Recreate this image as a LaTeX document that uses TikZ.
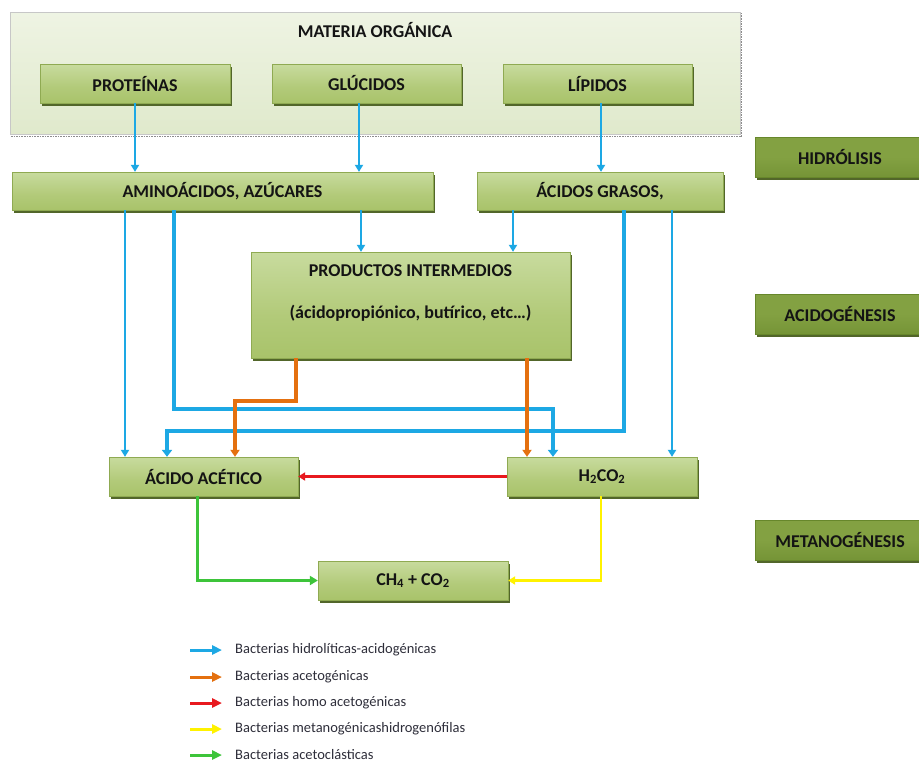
\documentclass[tikz,border=0pt]{standalone}
\usepackage{fontspec}
\setmainfont{Carlito}
\usetikzlibrary{arrows.meta,shadows,calc}
\definecolor{gA}{HTML}{9DBA58}
\definecolor{gB}{HTML}{B2CA79}
\definecolor{gC}{HTML}{C8DB9E}
\definecolor{gD}{HTML}{A3BE63}
\definecolor{pA}{HTML}{67872B}
\definecolor{pB}{HTML}{83A142}
\definecolor{pC}{HTML}{7A983A}
\definecolor{cA}{HTML}{D8E4C0}
\definecolor{cB}{HTML}{F6F9EF}
\definecolor{shd}{HTML}{52662A}
\definecolor{gEdge}{HTML}{8FAA52}
\definecolor{txt}{HTML}{141414}
\definecolor{cblue}{HTML}{1DA8E4}
\definecolor{corange}{HTML}{E4700F}
\definecolor{cred}{HTML}{E8191F}
\definecolor{cyellow}{HTML}{FFF200}
\definecolor{cgreen}{HTML}{3DC43A}
\definecolor{legtxt}{HTML}{2E2E3A}
\pgfdeclareverticalshading{gshade}{100bp}{color(0bp)=(gA); color(45bp)=(gB); color(75bp)=(gC); color(92bp)=(gB); color(100bp)=(gD)}
\pgfdeclareverticalshading{pshade}{100bp}{color(0bp)=(pA); color(50bp)=(pB); color(85bp)=(pB); color(100bp)=(pC)}
\pgfdeclareverticalshading{cshade}{100bp}{color(0bp)=(cA); color(100bp)=(cB)}
\tikzset{
  boxfont/.style={font=\bfseries\fontsize{18}{21}\selectfont, text=txt},
  gbox/.style={rectangle, shading=gshade, draw=gEdge, line width=0.3pt, inner sep=0pt,
     general shadow={fill=shd, shadow xshift=1.5pt, shadow yshift=-3pt}, boxfont},
  pbox/.style={gbox, shading=pshade, draw=pA},
  container/.style={rectangle, shading=cshade, draw=black!22, line width=0.6pt, inner sep=0pt},
  tipA/.style={-{Triangle[length=7pt,width=8pt]}},
  blu/.style={draw=cblue, line width=2.5pt, tipA},
  bluthick/.style={draw=cblue, line width=4pt, -{Triangle[length=7pt,width=10pt]}},
  ora/.style={draw=corange, line width=3.5pt, -{Triangle[length=7pt,width=9pt]}},
  redarr/.style={draw=cred, line width=2.2pt, tipA},
  yelarr/.style={draw=cyellow, line width=2.6pt, tipA},
  grnarr/.style={draw=cgreen, line width=3pt, -{Triangle[length=8pt,width=9pt]}},
  legarr/.style={line width=3pt, -{Triangle[length=10pt,width=9pt]}},
  legtext/.style={anchor=west, font=\fontsize{14.5}{17}\selectfont, text=legtxt, inner sep=0pt}
}
\begin{document}
\begin{tikzpicture}[x=1pt,y=-1pt]
\useasboundingbox (0,0) rectangle (919,764);
\fill[white] (0,0) rectangle (919,764);

% container
\node[container, minimum width=730pt, minimum height=122pt, anchor=north west] (mo) at (10,12) {};
\draw[black!45, densely dotted, line width=1.6pt] ([xshift=1pt,yshift=-2pt]mo.south west) -- ([xshift=1pt,yshift=-2pt]mo.south east) -- ([xshift=1pt]mo.north east);
\node[boxfont] (mot) at (375,30) {MATERIA ORGÁNICA};

% boxes
\node[gbox, minimum width=190pt, minimum height=39pt] (prot) at (135,83.5) {PROTEÍNAS};
\node[gbox, minimum width=189pt, minimum height=39pt] (gluc) at (366.5,83.5) {GLÚCIDOS};
\node[gbox, minimum width=189pt, minimum height=39pt] (lip) at (597.5,83.5) {LÍPIDOS};
\node[gbox, minimum width=421pt, minimum height=38pt] (amino) at (222.5,191) {AMINOÁCIDOS, AZÚCARES};
\node[gbox, minimum width=246pt, minimum height=38pt] (grasos) at (600,191) {ÁCIDOS GRASOS,};
\node[gbox, minimum width=319pt, minimum height=106pt] (prodint) at (410.5,305) {};
\node[boxfont] (pi1) at (410.5,271) {PRODUCTOS INTERMEDIOS};
\node[boxfont] (pi2) at (410.5,313) {(ácidopropiónico, butírico, etc…)};
\node[gbox, minimum width=189pt, minimum height=39pt] (acet) at (203.5,476.5) {ÁCIDO ACÉTICO};
\node[gbox, minimum width=190pt, minimum height=39pt] (h2) at (602,476.5) {H\textsubscript{2}CO\textsubscript{2}};
\node[gbox, minimum width=190pt, minimum height=39pt] (ch4) at (413,580.5) {CH\textsubscript{4} + CO\textsubscript{2}};

% phase labels
\node[pbox, minimum width=170pt, minimum height=40pt] (hidro) at (840,157) {};
\node[boxfont] (hidrot) at (840,157) {HIDRÓLISIS};
\node[pbox, minimum width=170pt, minimum height=40pt] (acido) at (840,314) {};
\node[boxfont] (acidot) at (840,314) {ACIDOGÉNESIS};
\node[pbox, minimum width=170pt, minimum height=40pt] (metano) at (840,540) {};
\node[boxfont] (metanot) at (840,540) {METANOGÉNESIS};

% column / row coordinates
\coordinate (xg) at (359,0);
\coordinate (xl) at (601,0);
\coordinate (c1) at (125,0);
\coordinate (c2) at (174,0);
\coordinate (c3) at (361,0);
\coordinate (c4) at (513,0);
\coordinate (c5) at (624,0);
\coordinate (c6) at (672,0);
\coordinate (c7) at (167,0);
\coordinate (c8) at (553,0);
\coordinate (o1) at (296,0);
\coordinate (o2) at (235,0);
\coordinate (o3) at (527,0);
\coordinate (g1) at (197,0);
\coordinate (y1) at (601,0);
\coordinate (r1) at (0,409);
\coordinate (r2) at (0,431);
\coordinate (r3) at (0,401);

% hydrolysis arrows
\draw[blu] (prot.south) -- (prot.south |- amino.north);
\draw[blu] (gluc.south -| xg) -- (xg |- amino.north);
\draw[blu] (lip.south -| xl) -- (xl |- grasos.north);

% acidogenesis arrows
\draw[blu] (amino.south -| c1) -- (c1 |- acet.north);
\draw[blu] (amino.south -| c3) -- (c3 |- prodint.north);
\draw[blu] (grasos.south -| c4) -- (c4 |- prodint.north);
\draw[blu] (grasos.south -| c6) -- (c6 |- h2.north);
\draw[bluthick] (amino.south -| c2) -- (c2 |- r1) -- (c8 |- r1) -- (c8 |- h2.north);
\draw[bluthick] (grasos.south -| c5) -- (c5 |- r2) -- (c7 |- r2) -- (c7 |- acet.north);

% acetogenic
\draw[ora] (prodint.south -| o1) -- (o1 |- r3) -- (o2 |- r3) -- (o2 |- acet.north);
\draw[ora] (prodint.south -| o3) -- (o3 |- h2.north);

% homoacetogenic
\draw[redarr] (h2.west) -- (acet.east);

% methanogenic
\draw[grnarr] (acet.south -| g1) -- (g1 |- ch4.west) -- (ch4.west);
\draw[yelarr] (h2.south -| y1) -- (y1 |- ch4.east) -- (ch4.east);

% legend
\foreach \i/\yy/\col/\lab in {1/650/cblue/{Bacterias hidrolíticas-acidogénicas},
                             2/677/corange/{Bacterias acetogénicas},
                             3/703/cred/{Bacterias homo acetogénicas},
                             4/729/cyellow/{Bacterias metanogénicashidrogenófilas},
                             5/755/cgreen/{Bacterias acetoclásticas}}{
  \coordinate (ls\i) at (190,\yy);
  \coordinate (le\i) at (222,\yy);
  \draw[legarr, draw=\col] (ls\i) -- (le\i);
  \node[legtext] (lt\i) at (235,\yy) {\lab};
}
\end{tikzpicture}
\end{document}
